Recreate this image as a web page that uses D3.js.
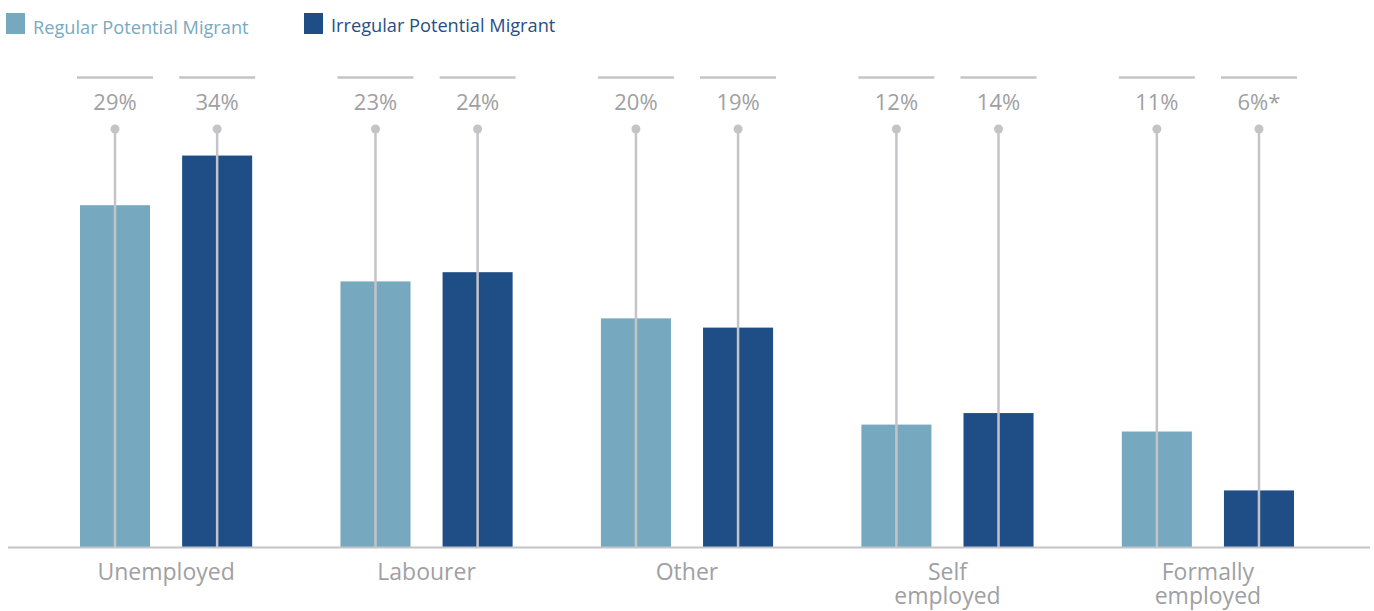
<!DOCTYPE html>
<html>
<head>
<meta charset="utf-8">
<script src="https://cdn.jsdelivr.net/npm/d3@7"></script>
<style>
html,body{margin:0;padding:0;background:#fff;}
svg{display:block;font-family:"Open Sans",sans-serif;}
</style>
</head>
<body>
<svg id="chart" width="1374" height="611"></svg>
<script>
const categories = ["Unemployed", "Labourer", "Other", "Self employed", "Formally employed"];
const seriesNames = ["Regular Potential Migrant", "Irregular Potential Migrant"];
const regularValues = [29.6, 23.0, 19.8, 10.6, 10.0];
const irregularValues = [33.9, 23.8, 19.0, 11.6, 4.9];
const regularLabels = ["29%", "23%", "20%", "12%", "11%"];
const irregularLabels = ["34%", "24%", "19%", "14%", "6%*"];
const seriesColors = ["#76a9bf", "#1f4e87"];
const legendTextColors = ["#79a9c0", "#244f85"];

const svg = d3.select("#chart");
const baseY = 547, stemTopY = 129;
const gray = "#c4c4c8", textGray = "#a0a0a3";

const x0 = d3.scaleBand().domain(categories).range([80, 1294]).paddingInner(0.339).paddingOuter(0);
const x1 = d3.scaleBand().domain(seriesNames).range([0, x0.bandwidth()]).paddingInner(0.314);
const y = d3.scaleLinear().domain([0, 36.2]).range([baseY, stemTopY]);

const rows = categories.map((c, i) => [
  {cat: c, s: seriesNames[0], v: regularValues[i], lab: regularLabels[i], k: 0},
  {cat: c, s: seriesNames[1], v: irregularValues[i], lab: irregularLabels[i], k: 1}
]).flat();

// legend
const legendX = [6, 304];
seriesNames.forEach((s, i) => {
  const g = svg.append("g").attr("transform", `translate(${legendX[i]},0)`);
  g.append("rect").attr("x", 0).attr("y", 13).attr("width", 19).attr("height", 21).attr("fill", seriesColors[i]);
  g.append("text").attr("x", 27).attr("y", i === 0 ? 34 : 32).attr("font-size", 18.2)
    .attr("fill", legendTextColors[i]).text(s);
});

// bars
svg.append("g").selectAll("rect").data(rows).join("rect")
  .attr("x", d => x0(d.cat) + x1(d.s))
  .attr("y", d => y(d.v))
  .attr("width", x1.bandwidth())
  .attr("height", d => baseY - y(d.v))
  .attr("fill", d => seriesColors[d.k]);

// stems
const cx = d => x0(d.cat) + x1(d.s) + x1.bandwidth() / 2;
svg.append("g").selectAll("line").data(rows).join("line")
  .attr("x1", cx).attr("x2", cx)
  .attr("y1", stemTopY).attr("y2", baseY)
  .attr("stroke", gray).attr("stroke-width", 2.5);
svg.append("g").selectAll("circle").data(rows).join("circle")
  .attr("cx", cx).attr("cy", stemTopY).attr("r", 4.5).attr("fill", gray);

// top rules
svg.append("g").selectAll("line").data(rows).join("line")
  .attr("x1", d => cx(d) - 38).attr("x2", d => cx(d) + 38)
  .attr("y1", 77.5).attr("y2", 77.5)
  .attr("stroke", gray).attr("stroke-width", 2.5);

// value labels
svg.append("g").selectAll("text").data(rows).join("text")
  .attr("x", cx).attr("y", 110).attr("text-anchor", "middle")
  .attr("font-size", 22).attr("fill", textGray).text(d => d.lab);

// axis baseline
svg.append("line").attr("x1", 8).attr("x2", 1370).attr("y1", baseY + 0.5).attr("y2", baseY + 0.5)
  .attr("stroke", gray).attr("stroke-width", 2);

// category labels
const catG = svg.append("g").selectAll("text").data(categories).join("text")
  .attr("x", d => x0(d) + x0.bandwidth() / 2).attr("y", 580)
  .attr("text-anchor", "middle").attr("font-size", 23).attr("fill", textGray);
catG.each(function(d) {
  const words = d.split(" ");
  const t = d3.select(this);
  const cxp = x0(d) + x0.bandwidth() / 2;
  words.forEach((w, i) => t.append("tspan").attr("x", cxp).attr("dy", i === 0 ? 0 : 24).text(w));
});
</script>
</body>
</html>
